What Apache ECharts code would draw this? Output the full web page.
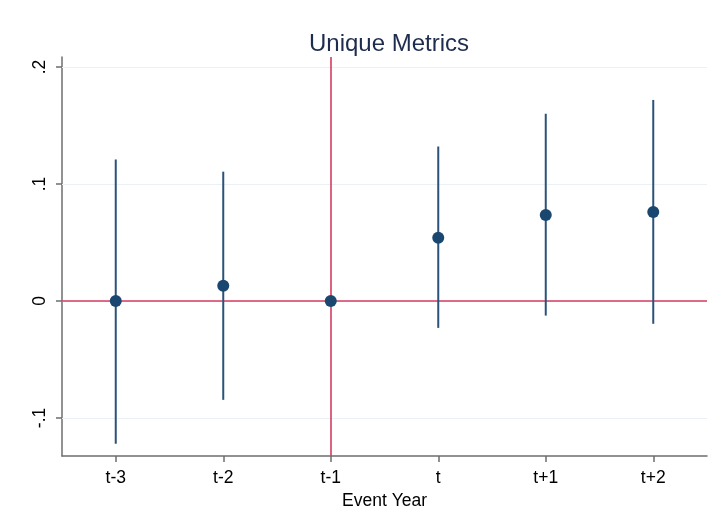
<!DOCTYPE html>
<html>
<head>
<meta charset="utf-8">
<script src="https://cdn.jsdelivr.net/npm/echarts@6/dist/echarts.min.js"></script>
<style>
  html, body { margin: 0; padding: 0; background: #fff; }
  #chart { width: 714px; height: 527px; }
</style>
</head>
<body>
<div id="chart"></div>
<script>
// event study estimates
const categories = ['t-3', 't-2', 't-1', 't', 't+1', 't+2']
const estimates = [0, 0.013, 0, 0.054, 0.0735, 0.076]
const ciLower = [-0.122, -0.0845, null, -0.023, -0.0125, -0.0195]
const ciUpper = [0.121, 0.1105, null, 0.132, 0.16, 0.1718]
const yTicks = [-0.1, 0, 0.1, 0.2]
const yTickLabels = ['-.1', '0', '.1', '.2']
const yMin = -0.1325
const yMax = 0.2085
const refCategory = 't-1'
const refValue = 0

const navy = '#1a476f'
const barColor = '#2b5278'
const red = '#d43d5f'
const axisGray = '#6e6e6e'
const font = 'Liberation Sans, Arial, sans-serif'

const ciData = []
categories.forEach(function (c, i) {
  if (ciLower[i] !== null) ciData.push([i, ciLower[i], ciUpper[i]])
})

const myChart = echarts.init(document.getElementById('chart'))
const option = {
  animation: false,
  title: {
    text: 'Unique Metrics',
    left: 384,
    textAlign: 'center',
    top: 27,
    textStyle: { fontFamily: font, fontSize: 24, fontWeight: 'normal', color: '#1e2d4f' }
  },
  grid: { left: 62, right: 7, top: 57, bottom: 71 },
  xAxis: {
    type: 'category',
    data: categories,
    boundaryGap: true,
    name: 'Event Year',
    nameLocation: 'middle',
    nameGap: 29,
    nameTextStyle: { fontFamily: font, fontSize: 17.5, color: '#000' },
    axisLine: { onZero: false, lineStyle: { color: axisGray, width: 1.5 } },
    axisTick: { show: true, inside: false, alignWithLabel: true, length: 6, lineStyle: { color: axisGray, width: 1.5 } },
    axisLabel: { fontFamily: font, fontSize: 17.5, color: '#000', margin: 13 },
    splitLine: { show: false }
  },
  yAxis: {
    type: 'value',
    min: yMin,
    max: yMax,
    axisLine: { show: true, onZero: false, lineStyle: { color: axisGray, width: 1.5 } },
    axisTick: { show: true, inside: false, length: 6, customValues: yTicks, lineStyle: { color: axisGray, width: 1.5 } },
    axisLabel: {
      customValues: yTicks,
      rotate: 90,
      margin: 13,
      fontFamily: font,
      fontSize: 17.5,
      color: '#000',
      formatter: function (v) {
        const k = yTicks.findIndex(function (t) { return Math.abs(t - v) < 1e-9 })
        return k >= 0 ? yTickLabels[k] : ''
      }
    },
    splitLine: { show: false }
  },
  series: [
    {
      // light grid lines
      type: 'line',
      data: [],
      silent: true,
      z: 1,
      markLine: {
        z: 1,
        silent: true,
        symbol: 'none',
        label: { show: false },
        lineStyle: { color: '#eaf0f5', width: 1.2, type: 'solid' },
        data: yTicks.map(function (t) { return { yAxis: t } })
      }
    },
    {
      // reference lines
      type: 'line',
      data: [],
      silent: true,
      z: 2,
      markLine: {
        z: 2,
        silent: true,
        symbol: 'none',
        label: { show: false },
        lineStyle: { color: red, width: 1.6, type: 'solid' },
        data: [{ yAxis: refValue }, { xAxis: refCategory }]
      }
    },
    {
      name: 'CI',
      type: 'custom',
      z: 3,
      data: ciData,
      encode: { x: 0, y: [1, 2] },
      renderItem: function (params, api) {
        const x = api.value(0)
        const p1 = api.coord([x, api.value(1)])
        const p2 = api.coord([x, api.value(2)])
        return {
          type: 'line',
          shape: { x1: p1[0], y1: p1[1], x2: p2[0], y2: p2[1] },
          style: { stroke: barColor, lineWidth: 2 }
        }
      }
    },
    {
      name: 'Estimate',
      type: 'scatter',
      z: 4,
      symbol: 'circle',
      symbolSize: 12,
      itemStyle: { color: navy, opacity: 1 },
      data: estimates
    }
  ]
}
myChart.setOption(option)
</script>
</body>
</html>
